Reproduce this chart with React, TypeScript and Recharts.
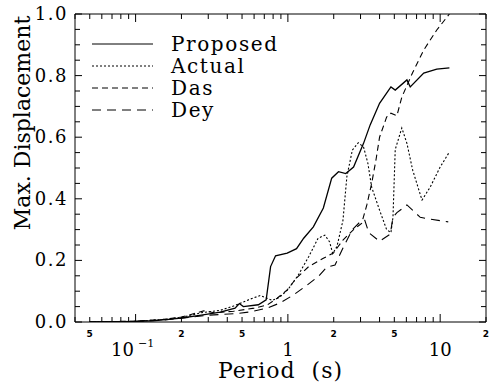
import React from "react";
import { LineChart, Line, XAxis, YAxis, Customized } from "recharts";

// Periods (s) and max displacement values per series
const proposedT = [0.05, 0.08, 0.1, 0.13, 0.17, 0.2, 0.27, 0.36, 0.45, 0.48, 0.51, 0.64, 0.72, 0.77, 0.83, 0.99, 1.14, 1.27, 1.47, 1.71, 1.94, 2.15, 2.4, 2.7, 3.14, 3.47, 4.0, 4.75, 5.07, 6.05, 6.36, 7.8, 9.5, 11.5];
const proposedV = [0, 0.001, 0.002, 0.004, 0.009, 0.013, 0.022, 0.032, 0.045, 0.06, 0.05, 0.056, 0.072, 0.18, 0.215, 0.224, 0.238, 0.272, 0.309, 0.37, 0.467, 0.488, 0.482, 0.503, 0.58, 0.64, 0.71, 0.763, 0.753, 0.786, 0.763, 0.808, 0.821, 0.825];

const actualT = [0.05, 0.1, 0.15, 0.2, 0.27, 0.36, 0.44, 0.57, 0.66, 0.73, 0.79, 0.88, 1.0, 1.17, 1.37, 1.58, 1.75, 1.88, 1.97, 2.1, 2.3, 2.44, 2.65, 2.9, 3.14, 3.35, 3.55, 4.0, 4.45, 4.75, 4.9, 5.07, 5.6, 6.05, 6.6, 7.6, 8.6, 10, 11.5];
const actualV = [0, 0.002, 0.008, 0.015, 0.03, 0.038, 0.052, 0.075, 0.086, 0.077, 0.07, 0.08, 0.105, 0.152, 0.212, 0.272, 0.282, 0.26, 0.222, 0.245, 0.33, 0.472, 0.558, 0.582, 0.568, 0.516, 0.438, 0.363, 0.3, 0.29, 0.34, 0.56, 0.63, 0.58, 0.493, 0.396, 0.438, 0.503, 0.552];

const dasT = [0.05, 0.1, 0.15, 0.2, 0.28, 0.33, 0.44, 0.6, 0.73, 0.85, 0.99, 1.14, 1.37, 1.71, 1.99, 2.3, 2.7, 3.05, 3.3, 3.55, 3.8, 4.0, 4.45, 4.75, 5.2, 5.6, 6.6, 7.8, 9.5, 11.5];
const dasV = [0, 0.003, 0.008, 0.016, 0.036, 0.03, 0.035, 0.045, 0.055, 0.077, 0.104, 0.143, 0.18, 0.207, 0.224, 0.266, 0.3, 0.32, 0.38, 0.45, 0.53, 0.6, 0.665, 0.678, 0.67, 0.73, 0.81, 0.883, 0.948, 1.0];

const deyT = [0.05, 0.1, 0.15, 0.2, 0.3, 0.45, 0.57, 0.73, 0.89, 1.09, 1.34, 1.6, 1.8, 2.04, 2.3, 2.65, 3.05, 3.2, 3.4, 4.0, 4.7, 4.9, 5.2, 6.05, 7.4, 8.6, 11.3];
const deyV = [0, 0.002, 0.006, 0.012, 0.022, 0.027, 0.033, 0.045, 0.062, 0.088, 0.12, 0.15, 0.178, 0.185, 0.24, 0.3, 0.33, 0.33, 0.29, 0.262, 0.285, 0.34, 0.355, 0.38, 0.34, 0.334, 0.325];

const seriesNames = ["Proposed", "Actual", "Das", "Dey"];
const seriesDash = ["", "2 2", "6 4", "9 6"];

const xTicks = [0.04, 0.05, 0.06, 0.07, 0.08, 0.09, 0.1, 0.2, 0.3, 0.4, 0.5, 0.6, 0.7, 0.8, 0.9, 1, 2, 3, 4, 5, 6, 7, 8, 9, 10, 20];
const xMajor = [0.1, 1, 10];
const xMinorLabels: Record<string, string> = { "0.05": "5", "0.2": "2", "0.5": "5", "2": "2", "5": "5", "20": "2" };
const yTicks = [0, 0.05, 0.1, 0.15, 0.2, 0.25, 0.3, 0.35, 0.4, 0.45, 0.5, 0.55, 0.6, 0.65, 0.7, 0.75, 0.8, 0.85, 0.9, 0.95, 1.0];
const yLabels: Record<string, string> = { "0": "0.0", "0.2": "0.2", "0.4": "0.4", "0.6": "0.6", "0.8": "0.8", "1": "1.0" };
const xTitle = "Period\u00a0\u00a0(s)";
const yTitle = "Max. Displacement";

const zip = (t: number[], v: number[]) => t.map((x, i) => ({ t: x, v: v[i] }));
const series = [zip(proposedT, proposedV), zip(actualT, actualV), zip(dasT, dasV), zip(deyT, deyV)];

const FONT = "DejaVu Serif";

const BottomTick = (props: any) => {
  const { x, y, payload } = props;
  const v = payload.value;
  const major = xMajor.includes(v);
  const minorLabel = xMinorLabels[String(v)];
  return (
    <g>
      <line x1={x} x2={x} y1={y} y2={y - (major ? 8 : 5)} stroke="#000" strokeWidth={1} />
      {minorLabel && (
        <text x={x} y={y + 15} textAnchor="middle" fontSize={9} fontWeight="bold" fontFamily="DejaVu Sans" fill="#000">
          {minorLabel}
        </text>
      )}
      {v === 0.1 && (
        <text x={x - 3} y={y + 34} textAnchor="middle" fontSize={18} fontFamily={FONT} fill="#000">
          10
          <tspan dx={4} dy={-9} fontSize={11}>−1</tspan>
        </text>
      )}
      {(v === 1 || v === 10) && (
        <text x={x} y={y + 34} textAnchor="middle" fontSize={18} fontFamily={FONT} fill="#000">
          {v}
        </text>
      )}
    </g>
  );
};

const TopTick = (props: any) => {
  const { x, y, payload } = props;
  const major = xMajor.includes(payload.value);
  return <line x1={x} x2={x} y1={y} y2={y + (major ? 8 : 5)} stroke="#000" strokeWidth={1} />;
};

const LeftTick = (props: any) => {
  const { x, y, payload } = props;
  const lab = yLabels[String(payload.value)];
  return (
    <g>
      <line x1={x} x2={x + (lab ? 7 : 5)} y1={y} y2={y} stroke="#000" strokeWidth={1} />
      {lab && (
        <text x={x - 7} y={y + 6} textAnchor="end" fontSize={18} letterSpacing={1.5} fontFamily={FONT} fill="#000">
          {lab}
        </text>
      )}
    </g>
  );
};

const RightTick = (props: any) => {
  const { x, y, payload } = props;
  const lab = yLabels[String(payload.value)];
  return <line x1={x} x2={x - (lab ? 7 : 5)} y1={y} y2={y} stroke="#000" strokeWidth={1} />;
};

const XTitle = (props: any) => {
  const vb = props.viewBox || { x: 75, y: 322, width: 411, height: 63 };
  return (
    <text x={vb.x + vb.width / 2} y={vb.y + 56} textAnchor="middle" fontSize={22} letterSpacing={1} fontFamily={FONT} fill="#000">
      {xTitle}
    </text>
  );
};

const YTitle = (props: any) => {
  const vb = props.viewBox || { x: 0, y: 14, width: 75, height: 308 };
  const cx = vb.x + 30;
  const cy = vb.y + 109;
  return (
    <text x={cx} y={cy} transform={`rotate(-90 ${cx} ${cy})`} textAnchor="middle" fontSize={22} fontFamily={FONT} fill="#000">
      {yTitle}
    </text>
  );
};

const LegendBox = () => (
  <g>
    {seriesNames.map((name, i) => {
      const ly = 44 + i * 22;
      return (
        <g key={name}>
          <line x1={92} x2={153} y1={ly} y2={ly} stroke="#000" strokeWidth={1} strokeDasharray={seriesDash[i] || undefined} />
          <text x={171} y={ly + 7} fontSize={20} fontFamily={FONT} fill="#000" letterSpacing={1.6}>
            {name}
          </text>
        </g>
      );
    })}
  </g>
);

export default function App() {
  return (
    <div style={{ position: "absolute", left: 0, top: 0, width: 489, height: 385, background: "#fff" }}>
      <LineChart width={489} height={385} margin={{ top: 0, right: 0, bottom: 0, left: 0 }}>
        <XAxis
          dataKey="t"
          type="number"
          scale="log"
          domain={[0.04, 20]}
          allowDataOverflow
          ticks={xTicks}
          interval={0}
          height={63}
          tickSize={0}
          tickMargin={0}
          tick={<BottomTick />}
          tickLine={false}
          axisLine={{ stroke: "#000", strokeWidth: 1 }}
          label={<XTitle />}
        />
        <XAxis
          xAxisId="top"
          orientation="top"
          dataKey="t"
          type="number"
          scale="log"
          domain={[0.04, 20]}
          allowDataOverflow
          ticks={xTicks}
          interval={0}
          height={14}
          tickSize={0}
          tickMargin={0}
          tick={<TopTick />}
          tickLine={false}
          axisLine={{ stroke: "#000", strokeWidth: 1 }}
        />
        <YAxis
          type="number"
          domain={[0, 1]}
          allowDataOverflow
          ticks={yTicks}
          interval={0}
          width={75}
          tickSize={0}
          tickMargin={0}
          tick={<LeftTick />}
          tickLine={false}
          axisLine={{ stroke: "#000", strokeWidth: 1 }}
          label={<YTitle />}
        />
        <YAxis
          yAxisId="right"
          orientation="right"
          type="number"
          domain={[0, 1]}
          allowDataOverflow
          ticks={yTicks}
          interval={0}
          width={3}
          tickSize={0}
          tickMargin={0}
          tick={<RightTick />}
          tickLine={false}
          axisLine={{ stroke: "#000", strokeWidth: 1 }}
        />
        {series.map((d, i) => (
          <Line
            key={seriesNames[i]}
            data={d}
            dataKey="v"
            name={seriesNames[i]}
            type="linear"
            stroke="#000"
            strokeWidth={i === 0 ? 1.3 : 1.1}
            strokeDasharray={seriesDash[i] || undefined}
            dot={false}
            activeDot={false}
            isAnimationActive={false}
          />
        ))}
        <Customized component={LegendBox} />
      </LineChart>
    </div>
  );
}
